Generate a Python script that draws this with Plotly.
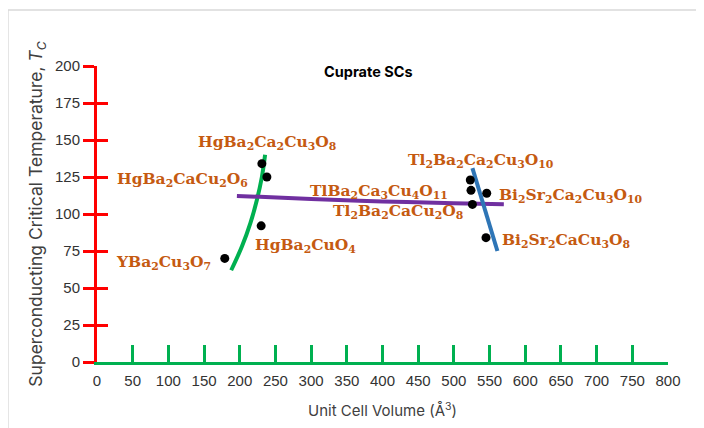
import plotly.graph_objects as go

# ---- data ----
compounds = ["YBa2Cu3O7", "HgBa2CuO4", "HgBa2CaCu2O6", "HgBa2Ca2Cu3O8",
             "Tl2Ba2Ca2Cu3O10a", "TlBa2Ca3Cu4O11", "Bi2Sr2Ca2Cu3O10",
             "Tl2Ba2CaCu2O8", "Bi2Sr2CaCu3O8"]
volume = [179, 230, 238, 231, 523, 524, 546, 526, 545]
tc = [70, 92, 125, 134, 123, 116, 114, 106.5, 84]

green_x = [188, 203, 215, 224, 231, 235.5]
green_y = [62, 78, 94, 109.5, 125, 140]
purple_x = [196, 300, 400, 500, 570]
purple_y = [112.2, 110.2, 108.5, 107.3, 106.6]
blue_x = [526, 561]
blue_y = [131, 75]

label_text = ["HgBa<sub>2</sub>Ca<sub>2</sub>Cu<sub>3</sub>O<sub>8</sub>",
              "HgBa<sub>2</sub>CaCu<sub>2</sub>O<sub>6</sub>",
              "TlBa<sub>2</sub>Ca<sub>3</sub>Cu<sub>4</sub>O<sub>11</sub>",
              "Tl<sub>2</sub>Ba<sub>2</sub>CaCu<sub>2</sub>O<sub>8</sub>",
              "HgBa<sub>2</sub>CuO<sub>4</sub>",
              "YBa<sub>2</sub>Cu<sub>3</sub>O<sub>7</sub>",
              "Tl<sub>2</sub>Ba<sub>2</sub>Ca<sub>2</sub>Cu<sub>3</sub>O<sub>10</sub>",
              "Bi<sub>2</sub>Sr<sub>2</sub>Ca<sub>2</sub>Cu<sub>3</sub>O<sub>10</sub>",
              "Bi<sub>2</sub>Sr<sub>2</sub>CaCu<sub>3</sub>O<sub>8</sub>"]
label_x = [238, 214, 296, 516, 219, 162, 433, 560, 565]
label_y = [148, 123, 115, 101.6, 78.4, 67, 136, 112.8, 82.4]
label_anchor = ["center", "right", "left", "right", "left", "right", "left", "left", "left"]

x_ticks = list(range(0, 801, 50))
y_ticks = list(range(0, 201, 25))

fig = go.Figure()
fig.add_trace(go.Scatter(x=green_x, y=green_y, mode="lines",
                         line=dict(color="#00B050", width=4, shape="spline"),
                         hoverinfo="skip"))
fig.add_trace(go.Scatter(x=purple_x, y=purple_y, mode="lines",
                         line=dict(color="#7030A0", width=4, shape="spline"),
                         hoverinfo="skip"))
fig.add_trace(go.Scatter(x=blue_x, y=blue_y, mode="lines",
                         line=dict(color="#2E75B6", width=4),
                         hoverinfo="skip"))
fig.add_trace(go.Scatter(x=volume, y=tc, mode="markers",
                         marker=dict(color="black", size=9),
                         text=compounds, hoverinfo="text"))
# inner half of y ticks (so ticks cross the red axis)
fig.add_trace(go.Scatter(x=[0], y=[0], yaxis="y2", mode="markers",
                         marker=dict(opacity=0), hoverinfo="skip"))

for t, x, y, a in zip(label_text, label_x, label_y, label_anchor):
    fig.add_annotation(x=x, y=y, text=t, showarrow=False, xanchor=a,
                       yanchor="middle",
                       font=dict(family="DejaVu Serif", size=15.5,
                                 color="#C55A11", weight="bold"))

fig.add_annotation(x=0.475, y=196, xref="paper", yref="y", text="<b>Cuprate SCs</b>",
                   showarrow=False, yanchor="middle",
                   font=dict(family="Inter, Arial", size=14.5, color="black"))

# frame of the picture
fig.add_shape(type="line", xref="paper", yref="paper",
              x0=-0.156, x1=1.1, y0=1.189, y1=1.189,
              line=dict(color="#d9d9d9", width=1.5))
fig.add_shape(type="line", xref="paper", yref="paper",
              x0=-0.156, x1=-0.156, y0=-0.3, y1=1.189,
              line=dict(color="#d9d9d9", width=1.5))

axis_font = dict(family="Liberation Sans, Arial", size=15, color="#333333")
fig.update_layout(
    width=696, height=420,
    margin=dict(l=89, r=36, t=58, b=66, autoexpand=False),
    paper_bgcolor="white", plot_bgcolor="white",
    showlegend=False,
    xaxis=dict(range=[0, 800], tickvals=x_ticks, showgrid=False, zeroline=False,
               automargin=False,
               showline=True, linecolor="#00B050", linewidth=3,
               ticks="inside", ticklen=17, tickwidth=2.5, tickcolor="#00B050",
               tickfont=axis_font, ticklabelstandoff=3,
               title=dict(text="Unit Cell Volume (Å<sup>3</sup>)",
                          font=dict(family="Inter, Arial", size=15, color="#404040"),
                          standoff=18)),
    yaxis=dict(range=[0, 200], tickvals=y_ticks, showgrid=False, zeroline=False,
               automargin=False,
               showline=True, linecolor="#FF0000", linewidth=3,
               ticks="outside", ticklen=11, tickwidth=3, tickcolor="#FF0000",
               tickfont=axis_font,
               title=dict(text="Superconducting Critical Temperature, <i>T<sub>C</sub></i>",
                          font=dict(family="Inter, Arial", size=17.5, color="#404040"),
                          standoff=8)),
    yaxis2=dict(range=[0, 200], overlaying="y", side="left", tickvals=y_ticks,
                automargin=False,
                showticklabels=False, showgrid=False, zeroline=False, showline=False,
                ticks="inside", ticklen=11, tickwidth=3, tickcolor="#FF0000"),
)

fig.write_html("out.html")
